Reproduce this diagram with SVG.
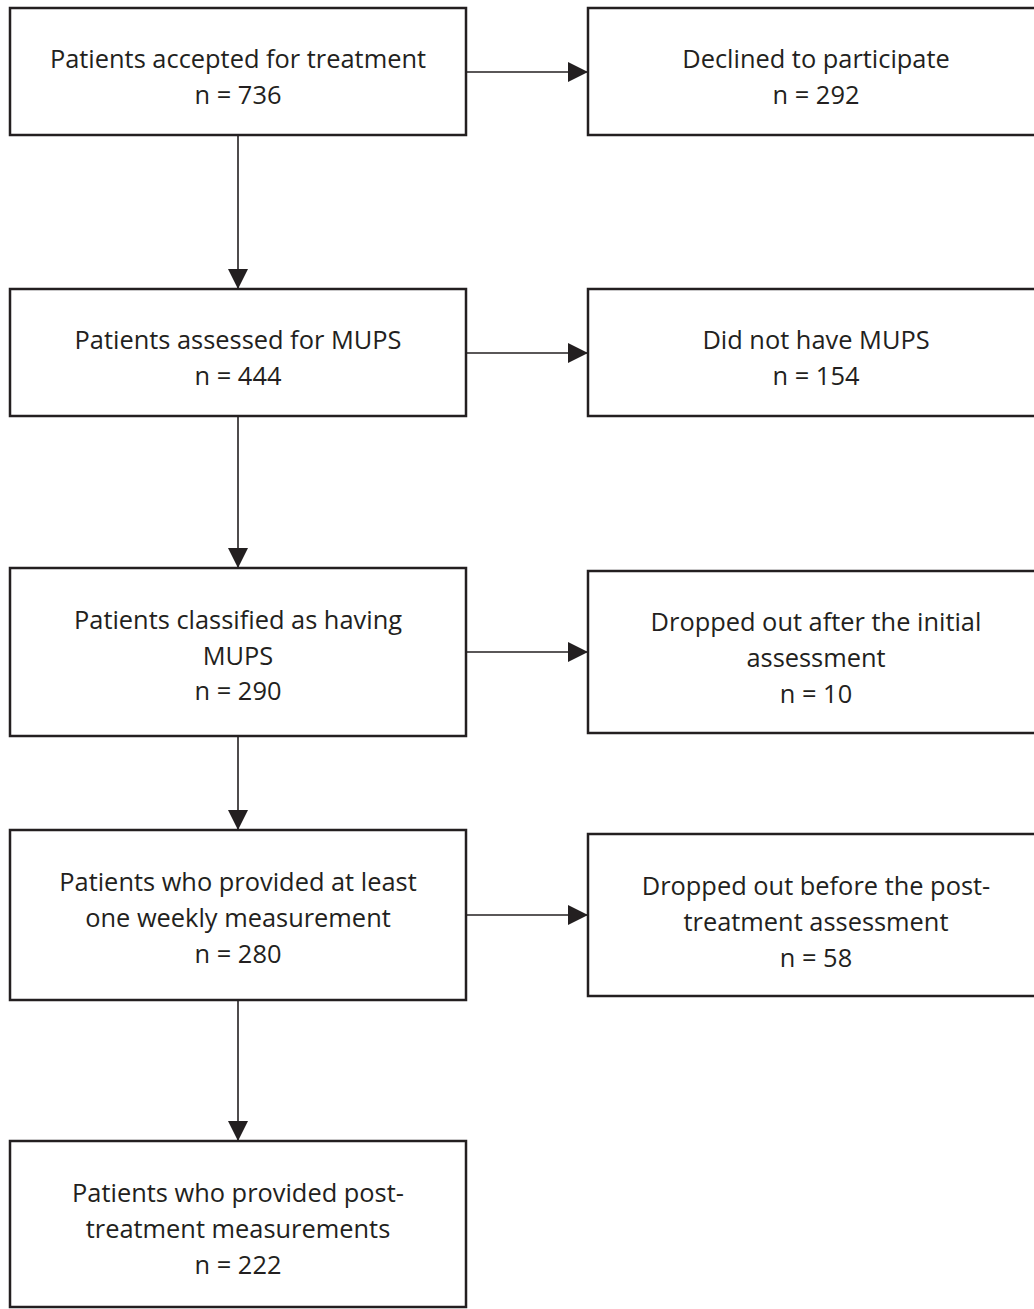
<svg xmlns="http://www.w3.org/2000/svg" width="1034" height="1309" viewBox="0 0 1034 1309">
<style>
.box{fill:#fff;stroke:#231f20;stroke-width:2.5}
.t{font-family:"Open Sans","Liberation Sans",Arial,sans-serif;font-size:25.4px;fill:#231f20;text-anchor:middle}
.c{stroke:#231f20;stroke-width:1.6;fill:none}
</style>
<defs>
<marker id="ah" markerUnits="userSpaceOnUse" markerWidth="20" markerHeight="20" viewBox="0 0 20 20" refX="20" refY="10" orient="auto">
<path d="M0,0 L20,10 L0,20 Z" fill="#231f20"/>
</marker>
</defs>
<rect width="1034" height="1309" fill="#fff"/>
<g id="connectors">
<line class="c" x1="466" y1="72" x2="588" y2="72" marker-end="url(#ah)"/>
<line class="c" x1="466" y1="353" x2="588" y2="353" marker-end="url(#ah)"/>
<line class="c" x1="466" y1="652" x2="588" y2="652" marker-end="url(#ah)"/>
<line class="c" x1="466" y1="915" x2="588" y2="915" marker-end="url(#ah)"/>
<line class="c" x1="238" y1="135" x2="238" y2="289" marker-end="url(#ah)"/>
<line class="c" x1="238" y1="416" x2="238" y2="568" marker-end="url(#ah)"/>
<line class="c" x1="238" y1="736" x2="238" y2="830" marker-end="url(#ah)"/>
<line class="c" x1="238" y1="1000" x2="238" y2="1141" marker-end="url(#ah)"/>
</g>
<g id="n1"><rect class="box" x="10" y="8" width="456" height="127"/>
<text class="t" x="238" y="68">Patients accepted for treatment</text><text class="t" x="238" y="104">n = 736</text></g>
<g id="r1"><rect class="box" x="588" y="8" width="456" height="127"/>
<text class="t" x="816" y="68">Declined to participate</text><text class="t" x="816" y="104">n = 292</text></g>
<g id="n2"><rect class="box" x="10" y="289" width="456" height="127"/>
<text class="t" x="238" y="349">Patients assessed for MUPS</text><text class="t" x="238" y="385">n = 444</text></g>
<g id="r2"><rect class="box" x="588" y="289" width="456" height="127"/>
<text class="t" x="816" y="349">Did not have MUPS</text><text class="t" x="816" y="385">n = 154</text></g>
<g id="n3"><rect class="box" x="10" y="568" width="456" height="168"/>
<text class="t" x="238" y="629">Patients classified as having</text><text class="t" x="238" y="664.5">MUPS</text><text class="t" x="238" y="700">n = 290</text></g>
<g id="r3"><rect class="box" x="588" y="571" width="456" height="162"/>
<text class="t" x="816" y="631">Dropped out after the initial</text><text class="t" x="816" y="667">assessment</text><text class="t" x="816" y="703">n = 10</text></g>
<g id="n4"><rect class="box" x="10" y="830" width="456" height="170"/>
<text class="t" x="238" y="891">Patients who provided at least</text><text class="t" x="238" y="927">one weekly measurement</text><text class="t" x="238" y="963">n = 280</text></g>
<g id="r4"><rect class="box" x="588" y="834" width="456" height="162"/>
<text class="t" x="816" y="895">Dropped out before the post-</text><text class="t" x="816" y="931">treatment assessment</text><text class="t" x="816" y="967">n = 58</text></g>
<g id="n5"><rect class="box" x="10" y="1141" width="456" height="166"/>
<text class="t" x="238" y="1202">Patients who provided post-</text><text class="t" x="238" y="1238">treatment measurements</text><text class="t" x="238" y="1274">n = 222</text></g>
</svg>
